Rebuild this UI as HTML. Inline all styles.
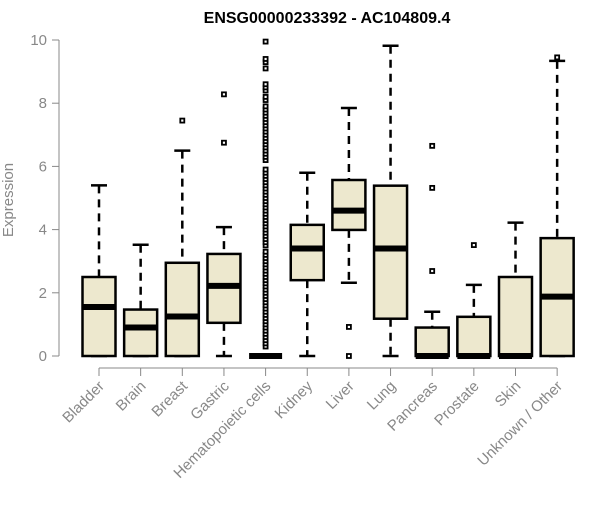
<!DOCTYPE html>
<html><head><meta charset="utf-8"><style>
body{margin:0;background:#fff;}
svg{font-family:"Liberation Sans",Arial,sans-serif;}
</style></head><body>
<svg id="c" width="600" height="500"></svg>
<script>
const categories=["Bladder","Brain","Breast","Gastric","Hematopoietic cells","Kidney","Liver","Lung","Pancreas","Prostate","Skin","Unknown / Other"];
const whiskLo=[0,0,0,0,0,0,2.32,0,0,0,0,0];
const q1=[0,0,0,1.05,0,2.4,3.99,1.18,0,0,0,0];
const med=[1.55,0.9,1.25,2.22,0,3.4,4.6,3.4,0,0,0,1.88];
const q3=[2.5,1.47,2.95,3.23,0,4.15,5.57,5.39,0.9,1.24,2.5,3.73];
const whiskHi=[5.4,3.52,6.5,4.08,0,5.8,7.85,9.82,1.4,2.25,4.22,9.34];
const outliers=[[],[],[7.45],[6.75,8.28],
[0.3,0.4,0.5,0.6,0.7,0.8,0.9,1.0,1.1,1.2,1.3,1.4,1.5,1.6,1.7,1.8,1.9,2.0,2.1,2.2,2.3,2.4,2.5,2.6,2.7,2.8,2.9,3.0,3.1,3.2,3.3,3.5,3.6,3.7,3.8,3.9,4.0,4.1,4.2,4.3,4.4,4.5,4.6,4.7,4.8,4.9,5.0,5.1,5.2,5.3,5.4,5.5,5.6,5.7,5.8,5.9,6.2,6.3,6.4,6.5,6.6,6.7,6.8,6.9,7.0,7.1,7.2,7.3,7.4,7.5,7.6,7.7,7.8,7.9,8.1,8.2,8.4,8.5,8.6,9.1,9.3,9.4,9.95],
[],[0.92,0],[],[6.65,5.32,2.69],[3.51],[],[9.45]];
const yTicks=[0,2,4,6,8,10];
const NS="http://www.w3.org/2000/svg";
const svg=document.getElementById('c');
const y=v=>356-v*31.6;
const x=i=>99+i*41.65;
function mk(t,a,p){const e=document.createElementNS(NS,t);for(const k in a)e.setAttribute(k,a[k]);(p||svg).appendChild(e);return e;}
let t=mk('text',{x:327,y:23,'text-anchor':'middle','font-size':16,'font-weight':'bold',fill:'#000'});t.textContent="ENSG00000233392 - AC104809.4";


let ya=mk('g',{});


mk('line',{x1:59,x2:59,y1:y(10),y2:y(0),stroke:'#888','stroke-width':1},ya);
yTicks.forEach(v=>{mk('line',{x1:52,x2:59,y1:y(v),y2:y(v),stroke:'#888'},ya);
const l=mk('text',{x:47,y:y(v)+5,'text-anchor':'end','font-size':15,fill:'#888'},ya);l.textContent=v;

});
let yt=mk('text',{x:13,y:200,'text-anchor':'middle','font-size':15,fill:'#888',transform:'rotate(-90 13 200)'});yt.textContent="Expression";


let xa=mk('g',{});


mk('line',{x1:x(0),x2:x(11),y1:368,y2:368,stroke:'#888'},xa);
categories.forEach((c,i)=>{const cx=x(i);
mk('line',{x1:cx,x2:cx,y1:368,y2:376,stroke:'#888'},xa);
const l=mk('text',{x:cx+6,y:387,'text-anchor':'end','font-size':15,fill:'#888',transform:`rotate(-45 ${cx+6} 387)`},xa);l.textContent=c;


const g=mk('g',{});


const h=16.5;
mk('line',{x1:cx,x2:cx,y1:y(whiskHi[i]),y2:y(q3[i]),stroke:'#000','stroke-width':2.5,'stroke-dasharray':'8,6'},g);
mk('line',{x1:cx,x2:cx,y1:y(q1[i]),y2:y(whiskLo[i]),stroke:'#000','stroke-width':2.5,'stroke-dasharray':'8,6'},g);
mk('line',{x1:cx-8,x2:cx+8,y1:y(whiskHi[i]),y2:y(whiskHi[i]),stroke:'#000','stroke-width':2.5},g);
mk('line',{x1:cx-8,x2:cx+8,y1:y(whiskLo[i]),y2:y(whiskLo[i]),stroke:'#000','stroke-width':2.5},g);
mk('rect',{x:cx-h,y:y(q3[i]),width:2*h,height:Math.max(0,y(q1[i])-y(q3[i])),fill:'#EDE8CE',stroke:'#000','stroke-width':2.5},g);
mk('line',{x1:cx-h,x2:cx+h,y1:y(med[i]),y2:y(med[i]),stroke:'#000','stroke-width':6},g);
outliers[i].forEach(v=>{const r=mk('rect',{x:cx-2,y:y(v)-2,width:4,height:4,fill:'#fff',stroke:'#000','stroke-width':1.8},g);

});
});
</script>
</body></html>
